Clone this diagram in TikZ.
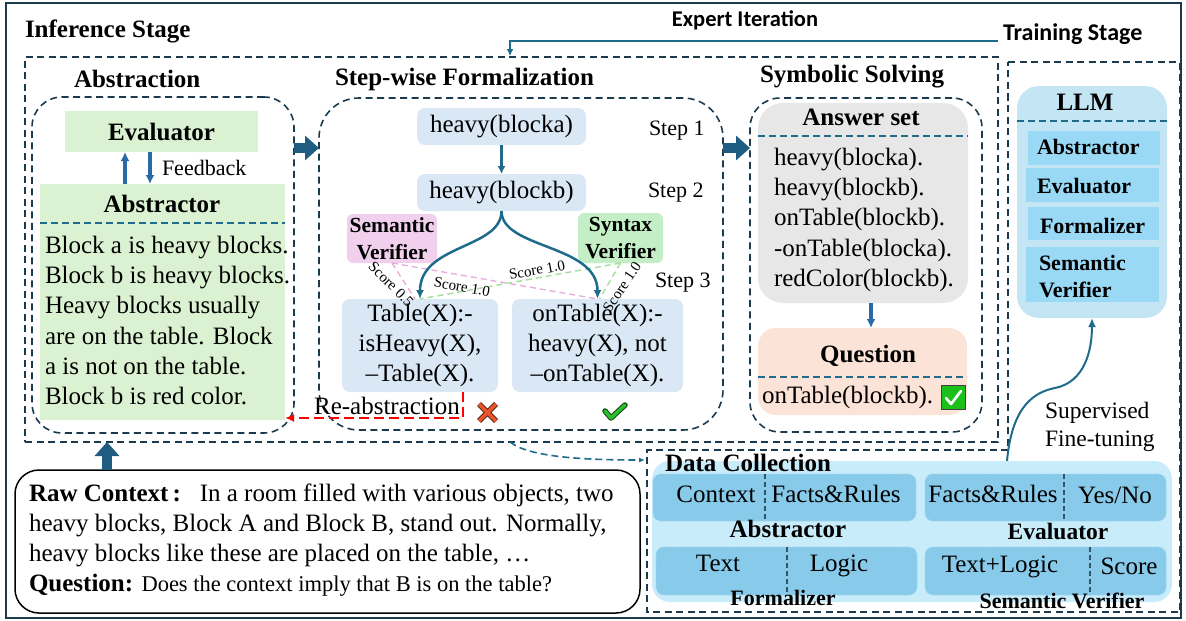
\documentclass[tikz,border=0pt]{standalone}
\usepackage{fontspec}
\setmainfont{Liberation Serif}
\newfontfamily\headsans{Carlito}
\usetikzlibrary{arrows.meta,calc}

\definecolor{navy}{HTML}{1C3A4E}
\definecolor{tealline}{HTML}{1F6B8C}
\definecolor{thickblue}{HTML}{1F5C82}
\definecolor{smallblue}{HTML}{2B68A8}
\definecolor{absgreen}{HTML}{DAF2D2}
\definecolor{lightblue}{HTML}{DAE8F5}
\definecolor{semPink}{HTML}{F0D0EC}
\definecolor{synGreen}{HTML}{C4EFC6}
\definecolor{ansGray}{HTML}{E7E7E7}
\definecolor{qPeach}{HTML}{FBE4D7}
\definecolor{llmBlue}{HTML}{C3E5F4}
\definecolor{llmInner}{HTML}{9AD9F5}
\definecolor{dcBlue}{HTML}{C8ECFA}
\definecolor{dcInner}{HTML}{88CAEA}
\definecolor{pinkDash}{HTML}{E9A9DC}
\definecolor{greenDash}{HTML}{A9E0A2}
\definecolor{crossRed}{HTML}{E8552A}
\definecolor{checkGreen}{HTML}{2DBE2D}
\definecolor{boxGreen}{HTML}{1BC01B}

\tikzset{
  every node/.style={inner sep=0pt, outer sep=0pt},
  r25/.style={font=\fontsize{25}{30.3}\selectfont},
  b25/.style={font=\fontsize{25}{30}\selectfont\bfseries},
  r22/.style={font=\fontsize{22}{27}\selectfont},
  b22/.style={font=\fontsize{22}{27}\selectfont\bfseries},
  b21/.style={font=\fontsize{21.5}{27}\selectfont\bfseries},
  scorelbl/.style={font=\fontsize{15}{18}\selectfont},
  dashbox/.style={draw=navy, line width=1.6pt, dash pattern=on 7pt off 4.5pt},
  sepdash/.style={draw=tealline, line width=1.5pt, dash pattern=on 7pt off 4pt},
  divdash/.style={draw=navy!80!dcInner, line width=1.1pt, dash pattern=on 5pt off 3pt},
  greenbox/.style={fill=absgreen},
  bluebox/.style={fill=lightblue, rounded corners=8pt},
  thickarr/.style={draw=thickblue, line width=10pt, -{Triangle[length=14pt,width=24pt]}},
  bluearr/.style={draw=smallblue, line width=3.2pt, -{Latex[length=9pt,width=9pt]}},
  tealarr/.style={draw=tealline, line width=2.5pt, -{Latex[length=9pt,width=8pt]}},
  redarr/.style={draw=red, line width=2.4pt, dash pattern=on 10pt off 5pt, -{Latex[length=9pt,width=8pt]}},
  pinkline/.style={draw=pinkDash, line width=1.3pt, dash pattern=on 6pt off 4pt},
  greenline/.style={draw=greenDash, line width=1.5pt, dash pattern=on 6pt off 4pt},
  llminner/.style={fill=llmInner, minimum width=132pt},
  dcinner/.style={fill=dcInner, rounded corners=8pt, draw=dcInner!80!white, dash pattern=on 5pt off 2pt, line width=0.8pt},
}

\begin{document}
\begin{tikzpicture}[x=1pt,y=-1pt]
\useasboundingbox (0,0) rectangle (1186,621);

% outer frame
\draw[navy, line width=1.8pt] (6,3) rectangle (1181,618);

% ---------- stages ----------
\node[dashbox, minimum width=973pt, minimum height=385pt, anchor=north west] (infR) at (25,57) {};
\draw[dashbox] (1008,62) -- (1180,62) -- (1180,612) -- (647,612) -- (647,450) -- (1008,450) -- cycle;
\coordinate (dcIn) at (645,460);

\node[b25, anchor=base west] (infT) at (25,37) {Inference Stage};
\node[font=\fontsize{24}{28}\selectfont\headsans\bfseries, anchor=base west] (trT) at (1003,40) {Training Stage};
\node[font=\fontsize{22.5}{26}\selectfont\headsans\bfseries] (expT) at (745,20) {Expert Iteration};
\coordinate (expA) at (998,41);
\coordinate (expB) at (510,56);
\draw[draw=tealline, line width=1.8pt, -{Latex[length=7pt,width=7pt]}] (expA) -| (expB);

% ---------- Abstraction ----------
\node[dashbox, rounded corners=30pt, minimum width=262pt, minimum height=336pt, anchor=north west] (absR) at (32,97) {};
\node[b25, anchor=base west] (absRT) at (74,87) {Abstraction};

\node[greenbox, b25, minimum width=193pt, minimum height=41pt] (eval) at (161.5,131.5) {Evaluator};
\node[greenbox, minimum width=245pt, minimum height=236pt, anchor=north west] (abs) at (40,184) {};
\node[b25, anchor=base] (absT) at (162,212) {Abstractor};
\draw[sepdash] (abs.west |- 0,223) -- (abs.east |- 0,223);
\node[r25, anchor=north west, align=left] (absTxt) at (45,236)
  {Block a is heavy blocks.\\Block b is heavy blocks.\\Heavy blocks usually\\are on the table. Block\\a is not on the table.\\Block b is red color.};
\draw[bluearr] (abs.north -| 125,0) -- (eval.south -| 125,0);
\draw[bluearr] (eval.south -| 150,0) -- (abs.north -| 150,0);
\node[r22, anchor=base west] (fb) at (162,175) {Feedback};

% ---------- Step-wise Formalization ----------
\node[dashbox, rounded corners=40pt, minimum width=404pt, minimum height=332pt, anchor=north west] (stepR) at (319,98) {};
\node[b25, anchor=base west] (stepT) at (335,85) {Step-wise Formalization};
\draw[thickarr] (absR.east |- 0,148) -- (stepR.west |- 0,148);

\node[bluebox, r25, minimum width=169pt, minimum height=37pt] (ha) at (501.5,126.5) {heavy(blocka)};
\node[bluebox, r25, minimum width=169pt, minimum height=37pt] (hb) at (501.5,192.5) {heavy(blockb)};
\draw[tealarr, line width=2.4pt, -{Latex[length=8pt,width=8pt]}] (ha) -- (hb);
\node[r22, anchor=base west] (s1) at (649,135) {Step 1};
\node[r22, anchor=base west] (s2) at (648,197) {Step 2};
\node[r22, anchor=base west] (s3) at (655,287) {Step 3};

\node[fill=semPink, rounded corners=6pt, b21, align=center, minimum width=90pt, minimum height=49pt] (sv) at (392,238.5) {Semantic\\Verifier};
\node[fill=synGreen, rounded corners=6pt, b21, align=center, minimum width=85pt, minimum height=50pt] (syv) at (620.5,238) {Syntax\\Verifier};

\node[bluebox, align=center, minimum width=156pt, minimum height=93pt, font=\fontsize{25}{30}\selectfont] (tbl) at (420,345.5) {Table(X):-\\isHeavy(X),\\--Table(X).};
\node[bluebox, align=center, minimum width=171pt, minimum height=93pt, font=\fontsize{25}{30}\selectfont] (otb) at (597.5,345.5) {onTable(X):-\\heavy(X), not\\--onTable(X).};

% verifier scores
\draw[pinkline] (sv.south) -- ([xshift=-5pt]tbl.north);
\draw[pinkline] (sv.south) -- (otb.north);
\draw[greenline] (syv.south) -- (tbl.north);
\draw[greenline] (syv.south) -- ([xshift=2pt]otb.north);
\node[scorelbl, rotate=-45] (sc1) at (391,284) {Score 0.5};
\node[scorelbl, rotate=-10] (sc2) at (462,287) {Score 1.0};
\node[scorelbl, rotate=10.5] (sc3) at (537,270) {Score 1.0};
\node[scorelbl, rotate=56] (sc4) at (622,287) {Score 1.0};

% branches
\draw[tealarr] (hb.south) .. controls +(0,38) and +(0,-55) .. (tbl.north);
\draw[tealarr] (hb.south) .. controls +(0,38) and +(0,-55) .. (otb.north);

% re-abstraction
\draw[redarr] (tbl.south -| 463,0) |- ([yshift=2pt]abs.south east);
\node[r25] (reab) at (387,406) {Re-abstraction};

% cross and check marks
\draw[line width=5.5pt, draw=black!70!crossRed] (479,404) -- (496,421) (479,421) -- (496,404);
\draw[line width=3.6pt, draw=crossRed] (479,404) -- (496,421) (479,421) -- (496,404);
\draw[line width=5.5pt, draw=black!60!checkGreen, line join=round, line cap=round] (605,411) -- (611,418) -- (625,405);
\draw[line width=3.4pt, draw=checkGreen, line join=round, line cap=round] (605,411) -- (611,418) -- (625,405);

% ---------- Symbolic Solving ----------
\node[dashbox, rounded corners=30pt, minimum width=232pt, minimum height=334pt, anchor=north west] (symR) at (750,98) {};
\node[b25, anchor=base west] (symT) at (760,82) {Symbolic Solving};
\draw[thickarr] (stepR.east |- 0,148) -- (symR.west |- 0,148);

\node[fill=ansGray, rounded corners=25pt, minimum width=210pt, minimum height=200pt, anchor=north west] (ans) at (758,103) {};
\node[b25, anchor=base] (ansT) at (861,125) {Answer set};
\draw[sepdash] (ans.west |- 0,136) -- (ans.east |- 0,136);
\node[r25, anchor=north west, align=left] (ansTxt) at (774,148)
  {heavy(blocka).\\heavy(blockb).\\onTable(blockb).\\-onTable(blocka).\\redColor(blockb).};

\node[fill=qPeach, rounded corners=18pt, minimum width=209pt, minimum height=87pt, anchor=north west] (qst) at (758,328) {};
\draw[bluearr] (ans.south -| 871,0) -- (qst.north -| 871,0);
\node[b25, anchor=base] (qT) at (868,362) {Question};
\draw[sepdash] (qst.west |- 0,377) -- (qst.east |- 0,377);
\node[r25, anchor=base west] (qTxt) at (762,403) {onTable(blockb).};
\node[fill=boxGreen, draw=black!75, line width=1.2pt, minimum size=24pt] (okbox) at (953.5,397.5) {};
\draw[white, line width=2.6pt, line cap=round, line join=round] (946,398) -- (951,404) -- (961,391);

% ---------- Training Stage ----------
\node[fill=llmBlue, rounded corners=22pt, minimum width=150pt, minimum height=232pt, anchor=north west] (llm) at (1017,86) {};
\node[b25, anchor=base] (llmT) at (1085,110) {LLM};
\draw[sepdash] (llm.west |- 0,121) -- (llm.east |- 0,121);
\node[llminner, minimum height=34pt, anchor=north west] (lA) at (1028,131) {};
\node[b22, anchor=base west] (lAt) at (1037,154) {Abstractor};
\node[llminner, minimum height=34pt, minimum width=133pt, anchor=north west] (lE) at (1026,168) {};
\node[b22, anchor=base west] (lEt) at (1037,193) {Evaluator};
\node[llminner, minimum height=33pt, minimum width=131pt, anchor=north west] (lF) at (1028,207) {};
\node[b22, anchor=base west] (lFt) at (1040,233) {Formalizer};
\node[llminner, minimum height=55pt, minimum width=133pt, anchor=north west] (lS) at (1026,247) {};
\node[b22, anchor=north west, align=left] (lSt) at (1039,255) {Semantic\\Verifier};

\coordinate (sftA) at (1007,461);
\draw[tealarr, line width=2pt] (sftA) .. controls (1012,405) and (1035,392) .. (1055,388)
   .. controls (1085,382) and (1092,350) .. (llm.south -| 1092,0);
\node[align=left, anchor=north west, font=\fontsize{23.5}{28}\selectfont] (sft) at (1045,402) {Supervised\\Fine-tuning};

% ---------- Data Collection ----------
\node[fill=dcBlue, rounded corners=18pt, minimum width=520pt, minimum height=141pt, anchor=north west] (dc) at (652,461) {};
\node[b25, anchor=base west] (dcT) at (665,471) {Data Collection};

\node[dcinner, minimum width=263pt, minimum height=47pt, anchor=north west] (dA) at (653,474) {};
\draw[divdash] (765,474) -- (765,521);
\node[r25] (dA1) at (716,494) {Context};
\node[r25] (dA2) at (836,494) {Facts\&Rules};
\node[b25] (dAt) at (788,529) {Abstractor};

\node[dcinner, minimum width=241pt, minimum height=47pt, anchor=north west] (dE) at (925,474) {};
\draw[divdash] (1064,474) -- (1064,521);
\node[r25] (dE1) at (993,494) {Facts\&Rules};
\node[r25] (dE2) at (1115,495) {Yes/No};
\node[font=\fontsize{23.5}{27}\selectfont\bfseries] (dEt) at (1058,531) {Evaluator};

\node[dcinner, minimum width=261pt, minimum height=48pt, anchor=north west] (dF) at (656,547) {};
\draw[divdash] (787,547) -- (787,595);
\node[r25] (dF1) at (718,563) {Text};
\node[r25] (dF2) at (839,566) {Logic};
\node[b22] (dFt) at (783,598) {Formalizer};

\node[dcinner, minimum width=241pt, minimum height=48pt, anchor=north west] (dS) at (925,547) {};
\draw[divdash] (1090,547) -- (1090,595);
\node[r25] (dS1) at (1000,567) {Text+Logic};
\node[r25] (dS2) at (1129,566) {Score};
\node[b22] (dSt) at (1062,601) {Semantic Verifier};

\draw[draw=tealline, line width=1.6pt, dash pattern=on 7pt off 4pt, -{Latex[length=6pt,width=5pt]}]
  (infR.south -| 510,0) .. controls (530,458) and (590,460) .. (dcIn);

% ---------- Raw context ----------
\node[draw=black, line width=1.5pt, rounded corners=24pt, minimum width=625pt, minimum height=143pt, anchor=north west] (raw) at (15,470) {};
\draw[thickarr] (raw.north -| 107,0) -- (infR.south -| 107,0);
\node[r25, anchor=base west] (raw1) at (29,501) {\textbf{Raw Context\thinspace:}\ \ \ In a room filled with various objects, two};
\node[r25, anchor=base west] (raw2) at (29,531) {heavy blocks, Block A and Block B, stand out. Normally,};
\node[r25, anchor=base west] (raw3) at (29,561) {heavy blocks like these are placed on the table, \ldots};
\node[r25, anchor=base west] (raw4) at (29,591) {\textbf{Question:} {\fontsize{22.5}{26}\selectfont Does the context imply that B is on the table?}};

\end{tikzpicture}
\end{document}
